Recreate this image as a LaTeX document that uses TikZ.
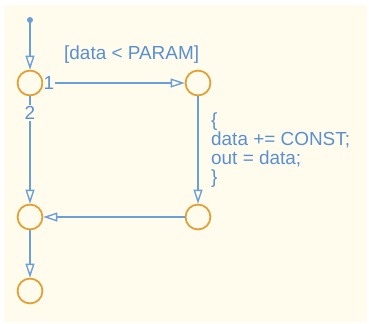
\documentclass[tikz,border=0pt]{standalone}
\usepackage{fontspec}
\setmainfont{Liberation Sans}
\usetikzlibrary{arrows.meta}
\definecolor{cream}{HTML}{FFFCEE}
\definecolor{lblue}{HTML}{6A9FD8}
\definecolor{tblue}{HTML}{5A90D0}
\definecolor{orng}{HTML}{E2A136}
\tikzset{
  junc/.style={circle,draw=orng,line width=1.8pt,minimum size=25pt,inner sep=0pt},
  trans/.style={draw=lblue,line width=2pt,-{Triangle[open,length=14pt,width=9pt,line width=1.4pt]}},
  lbl/.style={text=tblue,font=\fontsize{19}{19}\selectfont,inner sep=1pt},
  plbl/.style={lbl,fill=cream}
}
\begin{document}
\begin{tikzpicture}[x=1bp,y=-1bp]
\useasboundingbox (0,0) rectangle (369,324);
\fill[white] (0,0) rectangle (369,324);
\fill[cream] (4,5) rectangle (367,322);
\fill[lblue] (30,20) circle (3pt) coordinate (start);
\node[junc] (j1) at (30,83) {};
\node[junc] (j2) at (198,83) {};
\node[junc] (j3) at (198,217) {};
\node[junc] (j4) at (30,217) {};
\node[junc] (j5) at (30,291) {};
\draw[trans] (start) -- (j1.north);
\draw[trans] (j1.east) -- (j2.west);
\draw[trans] (j1.south) -- (j4.north);
\draw[trans] (j2.south) -- (j3.north);
\draw[trans] (j3.west) -- (j4.east);
\draw[trans] (j4.south) -- (j5.north);
\node[plbl] (n1) at (49,83) {1};
\node[plbl] (n2) at (30,113) {2};
\node[lbl,anchor=west] (guard) at (63,54.5) {[data < PARAM]};
\node[lbl,anchor=north west,align=left] (act) at (210,112) {\{\\data += CONST;\\out = data;\\\}};
\end{tikzpicture}
\end{document}
